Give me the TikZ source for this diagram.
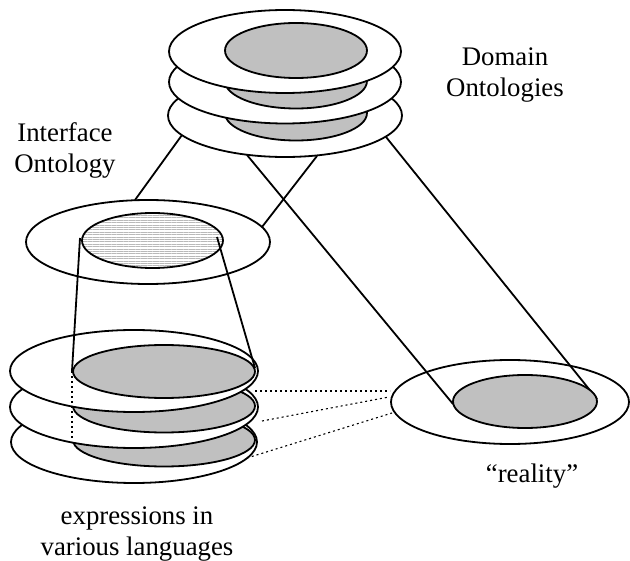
\documentclass[tikz,border=0pt]{standalone}
\usepackage{fontspec}
\setmainfont{Liberation Serif}
\usetikzlibrary{patterns.meta}
\definecolor{silv}{RGB}{192,192,192}
\tikzset{
  outline/.style={draw=black, line width=1.8pt},
  plate/.style={outline, fill=white},
  disc/.style={outline, fill=silv},
  link/.style={draw=black, line width=1.8pt},
  dotlink/.style={draw=black, line width=1.4pt, dash pattern=on 2pt off 3pt},
  lbl/.style={inner sep=0pt, anchor=base, font=\fontsize{26.8}{31}\selectfont}
}
\begin{document}
\begin{tikzpicture}[x=1pt,y=-1pt]
\useasboundingbox (0,0) rectangle (630,561);
% reality
\draw[plate] (510,402) ellipse [x radius=119, y radius=42];
% connector end points
\coordinate (d1) at (182,135);
\coordinate (d2) at (317,156);
\coordinate (d3) at (247,155);
\coordinate (d4) at (386,137);
\coordinate (i1) at (135,200);
\coordinate (i2) at (262,227);
\coordinate (r1) at (453,404);
\coordinate (r2) at (597,399);
\draw[link] (d3) -- (r1);
\draw[link] (d4) -- (r2);
\draw[disc] (525,401.5) ellipse [x radius=72, y radius=26.5];
\draw[link] (d1) -- (i1);
\draw[link] (d2) -- (i2);
% domain ontologies stack
\draw[plate] (285,115.5) ellipse [x radius=117, y radius=41.5];
\draw[disc] (296,113) ellipse [x radius=71, y radius=27.5];
\draw[plate] (285,82) ellipse [x radius=116, y radius=41.5];
\draw[disc] (296,81) ellipse [x radius=71, y radius=27.5];
\draw[plate] (285,51.5) ellipse [x radius=116, y radius=41.5];
\draw[disc] (296,50.5) ellipse [x radius=71, y radius=27.5];
% interface ontology
\draw[plate] (148,242) ellipse [x radius=122, y radius=42];
\fill[white] (152.5,240.5) ellipse [x radius=70.5, y radius=27.5];
\path[pattern={Lines[angle=0,distance=2.4pt,line width=0.9pt]}, pattern color=gray!55] (152.5,240.5) ellipse [x radius=70.5, y radius=27.5];
\draw[outline] (152.5,240.5) ellipse [x radius=70.5, y radius=27.5];
% expressions stack
\draw[plate] (134,442) ellipse [x radius=123, y radius=41];
\draw[disc] (164,440) ellipse [x radius=91, y radius=26.5];
\draw[plate] (134,407) ellipse [x radius=124, y radius=41];
\draw[disc] (164,406) ellipse [x radius=91, y radius=26.5];
\draw[plate] (134,371) ellipse [x radius=124, y radius=41];
\draw[disc] (164,371.5) ellipse [x radius=91, y radius=26.5];
% cone
\coordinate (c1) at (80,238);
\coordinate (c2) at (217,237);
\coordinate (c3) at (72,371);
\coordinate (c4) at (255,368);
\coordinate (c5) at (72,440);
\draw[link] (c1) -- (c3);
\draw[link] (c2) -- (c4);
\draw[dotlink] (c3) -- (c5);
% dotted links to reality
\coordinate (e1) at (255,391);
\coordinate (e2) at (262,421);
\coordinate (e3) at (247,458);
\coordinate (f1) at (390,391);
\coordinate (f2) at (389,397);
\coordinate (f3) at (392,413);
\draw[dotlink] (e1) -- (f1);
\draw[dotlink, line width=1.1pt] (e2) -- (f2);
\draw[dotlink, line width=1.1pt] (e3) -- (f3);
% labels
\node[lbl] (t1) at (505,66) {Domain};
\node[lbl] (t2) at (505,97) {Ontologies};
\node[lbl] (t3) at (65,142) {Interface};
\node[lbl] (t4) at (65,173) {Ontology};
\node[lbl] (t5) at (137,525) {expressions in};
\node[lbl] (t6) at (137,555) {various languages};
\node[lbl] (t7) at (532,483) {“reality”};
\end{tikzpicture}
\end{document}
